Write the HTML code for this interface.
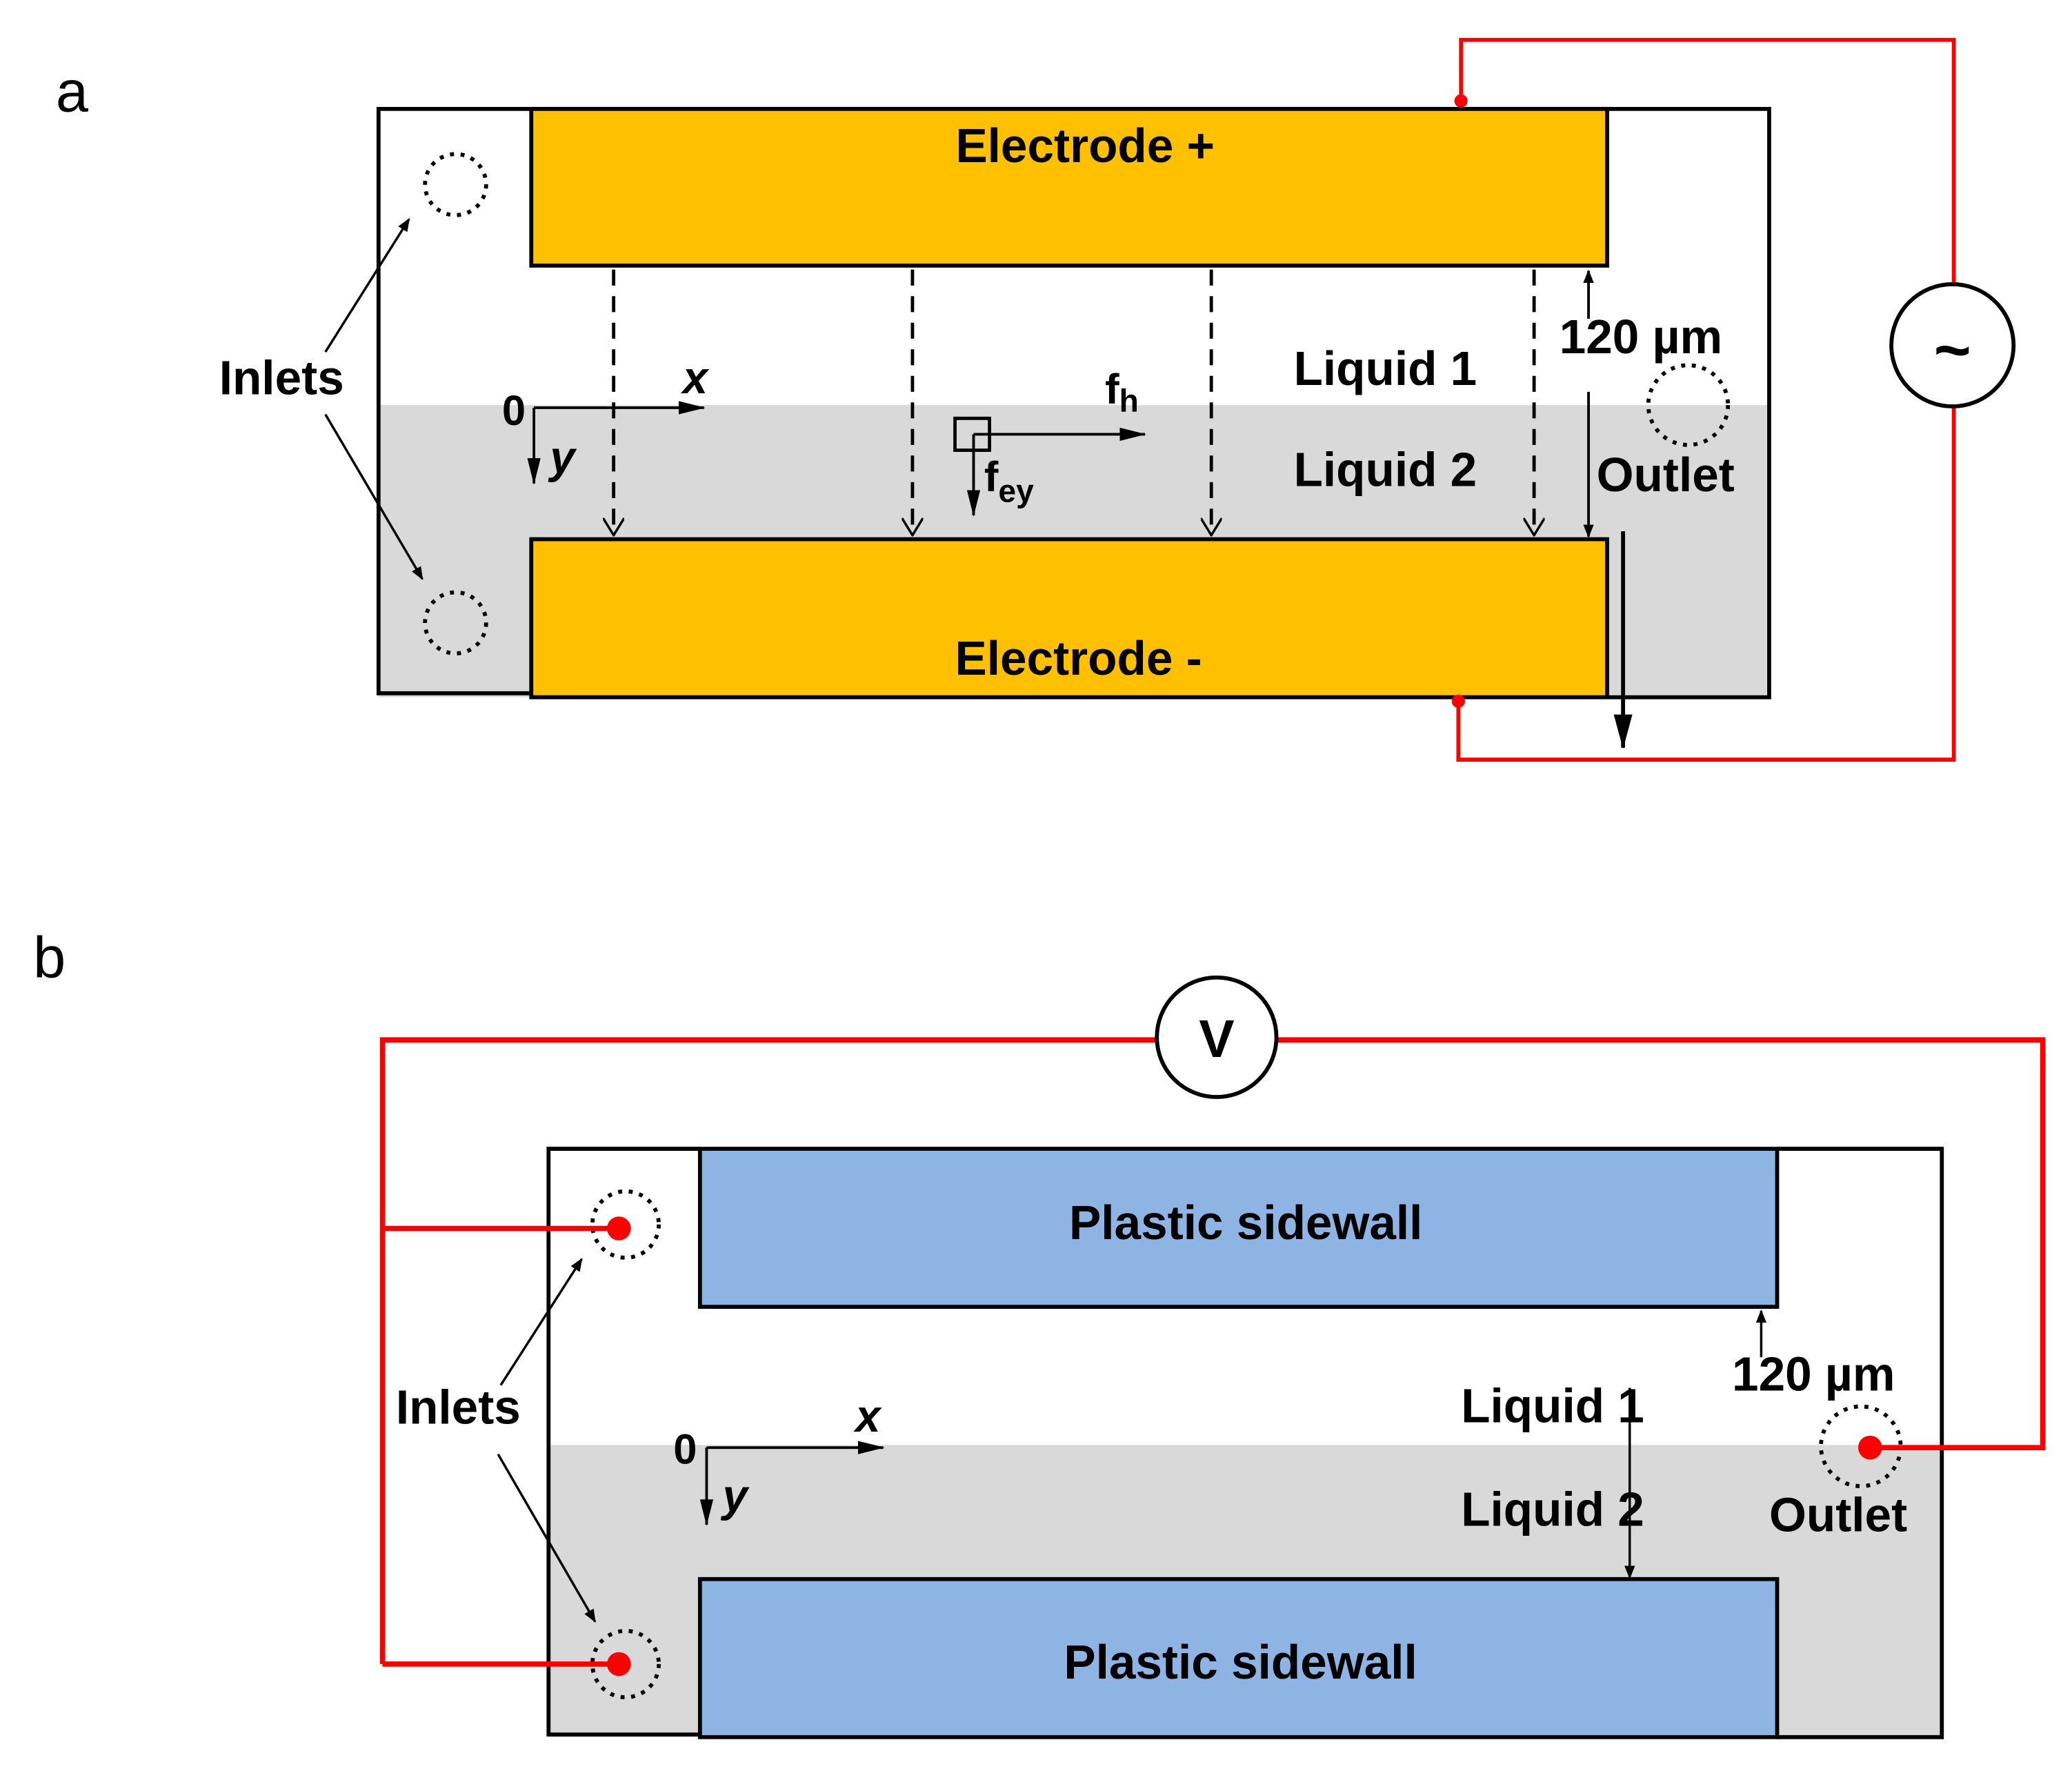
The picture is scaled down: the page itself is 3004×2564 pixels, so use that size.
<!DOCTYPE html>
<html><head><style>html,body{margin:0;padding:0;background:#fff}svg{display:block}</style></head>
<body>
<svg width="3004" height="2564" viewBox="0 0 1560 1332" preserveAspectRatio="none" xmlns="http://www.w3.org/2000/svg" font-family="Liberation Sans, sans-serif">
<defs>
<marker id="f" markerWidth="10" markerHeight="8" refX="9" refY="4" orient="auto" markerUnits="userSpaceOnUse"><path d="M0,0 L10,4 L0,8 Z" fill="#000"/></marker>
<marker id="fb" markerWidth="26" markerHeight="14" refX="25" refY="7" orient="auto" markerUnits="userSpaceOnUse"><path d="M0,0 L26,7 L0,14 Z" fill="#000"/></marker>
<marker id="fm" markerWidth="20" markerHeight="10" refX="19" refY="5" orient="auto" markerUnits="userSpaceOnUse"><path d="M0,0 L20,5 L0,10 Z" fill="#000"/></marker>
<marker id="o" markerWidth="14" markerHeight="16" refX="13" refY="8" orient="auto" markerUnits="userSpaceOnUse"><path d="M0,0 L13,8 L0,16" fill="none" stroke="#000" stroke-width="1.8"/></marker>
</defs>
<!-- Panel a -->
<text x="42" y="84" font-size="44">a</text>
<rect x="285" y="305" width="1047" height="220" fill="#d9d9d9"/>
<path d="M400,82 L285,82 L285,522 L400,522 M1210,82 L1332,82 L1332,525 L1210,525" fill="none" stroke="#000" stroke-width="3"/>
<rect x="400" y="82" width="810" height="118" fill="#ffc000" stroke="#000" stroke-width="3"/>
<rect x="400" y="406" width="810" height="119" fill="#ffc000" stroke="#000" stroke-width="3"/>
<text x="817" y="122" font-size="36" font-weight="bold" text-anchor="middle">Electrode +</text>
<text x="812" y="508" font-size="36" font-weight="bold" text-anchor="middle">Electrode -</text>
<g stroke="#000" stroke-width="2.5" stroke-dasharray="12,8" fill="none">
<line x1="462" y1="203" x2="462" y2="403" marker-end="url(#o)"/>
<line x1="687" y1="203" x2="687" y2="403" marker-end="url(#o)"/>
<line x1="912" y1="203" x2="912" y2="403" marker-end="url(#o)"/>
<line x1="1155" y1="203" x2="1155" y2="403" marker-end="url(#o)"/>
</g>
<g fill="none" stroke="#000" stroke-width="3" stroke-dasharray="3,5">
<circle cx="343" cy="139" r="23"/><circle cx="343" cy="469" r="23"/><circle cx="1271" cy="305" r="30"/>
</g>
<text x="165" y="297" font-size="36" font-weight="bold">Inlets</text>
<g stroke="#000" stroke-width="1.8">
<line x1="245" y1="265" x2="308" y2="165" marker-end="url(#f)"/>
<line x1="245" y1="312" x2="318" y2="436" marker-end="url(#f)"/>
</g>
<text x="378" y="320" font-size="32" font-weight="bold">0</text>
<line x1="402" y1="307" x2="530" y2="307" stroke="#000" stroke-width="2" marker-end="url(#fm)"/>
<line x1="402" y1="307" x2="402" y2="364" stroke="#000" stroke-width="2" marker-end="url(#fm)"/>
<text x="514" y="296" font-size="34" font-weight="bold" font-style="italic">x</text>
<text x="414" y="356" font-size="34" font-weight="bold" font-style="italic">y</text>
<rect x="719" y="315" width="26" height="24" fill="none" stroke="#000" stroke-width="2.5"/>
<line x1="733" y1="327" x2="862" y2="327" stroke="#000" stroke-width="2" marker-end="url(#fm)"/>
<line x1="733" y1="327" x2="733" y2="388" stroke="#000" stroke-width="2" marker-end="url(#fm)"/>
<text x="832" y="304" font-size="32" font-weight="bold">f<tspan font-size="24" dy="6">h</tspan></text>
<text x="741" y="370" font-size="32" font-weight="bold">f<tspan font-size="24" dy="8">ey</tspan></text>
<text x="974" y="290" font-size="36" font-weight="bold">Liquid 1</text>
<text x="974" y="366" font-size="36" font-weight="bold">Liquid 2</text>
<line x1="1196" y1="240" x2="1196" y2="204" stroke="#000" stroke-width="2" marker-end="url(#f)"/>
<line x1="1196" y1="295" x2="1196" y2="404" stroke="#000" stroke-width="2" marker-end="url(#f)"/>
<text x="1174" y="266" font-size="36" font-weight="bold">120 µm</text>
<text x="1202" y="370" font-size="36" font-weight="bold">Outlet</text>
<line x1="1222" y1="400" x2="1222" y2="563" stroke="#000" stroke-width="3" marker-end="url(#fb)"/>
<g stroke="#ff0000" stroke-width="3" fill="none">
<path d="M1100,76 L1100,30 L1471,30 L1471,214"/>
<path d="M1471,306 L1471,572 L1098,572 L1098,528"/>
</g>
<circle cx="1100" cy="76" r="5" fill="#ff0000"/><circle cx="1098" cy="528" r="5" fill="#ff0000"/>
<ellipse cx="1470" cy="260" rx="46" ry="46" fill="#fff" stroke="#000" stroke-width="3"/>
<text x="1470" y="280" font-size="48" font-weight="bold" text-anchor="middle">~</text>

<!-- Panel b -->
<text x="25" y="736" font-size="44">b</text>
<rect x="413" y="1088" width="1049" height="220" fill="#d9d9d9"/>
<path d="M527,865 L413,865 L413,1306 L527,1306 M1338,865 L1462,865 L1462,1308 L1338,1308" fill="none" stroke="#000" stroke-width="3"/>
<rect x="527" y="865" width="811" height="119" fill="#8eb4e3" stroke="#000" stroke-width="3"/>
<rect x="527" y="1189" width="811" height="119" fill="#8eb4e3" stroke="#000" stroke-width="3"/>
<text x="938" y="933" font-size="36" font-weight="bold" text-anchor="middle">Plastic sidewall</text>
<text x="934" y="1264" font-size="36" font-weight="bold" text-anchor="middle">Plastic sidewall</text>
<g fill="none" stroke="#000" stroke-width="3" stroke-dasharray="3,5">
<circle cx="471" cy="922" r="25"/><circle cx="471" cy="1253" r="25"/><circle cx="1401" cy="1089" r="30"/>
</g>
<g stroke="#ff0000" stroke-width="4" fill="none">
<path d="M466,925 L288,925 M288,1253 L466,1253 M288,1253 L288,783 L870,783 M962,783 L1538,783 L1538,1090 L1408,1090"/>
</g>
<circle cx="466" cy="925" r="9" fill="#ff0000"/><circle cx="466" cy="1253" r="9" fill="#ff0000"/><circle cx="1408" cy="1090" r="9" fill="#ff0000"/>
<circle cx="916" cy="781" r="45" fill="#fff" stroke="#000" stroke-width="3"/>
<text x="916" y="796" font-size="40" font-weight="bold" text-anchor="middle">V</text>
<text x="298" y="1072" font-size="36" font-weight="bold">Inlets</text>
<g stroke="#000" stroke-width="1.8">
<line x1="377" y1="1043" x2="438" y2="948" marker-end="url(#f)"/>
<line x1="375" y1="1095" x2="448" y2="1221" marker-end="url(#f)"/>
</g>
<text x="507" y="1102" font-size="32" font-weight="bold">0</text>
<line x1="532" y1="1090" x2="665" y2="1090" stroke="#000" stroke-width="2" marker-end="url(#fm)"/>
<line x1="532" y1="1090" x2="532" y2="1148" stroke="#000" stroke-width="2" marker-end="url(#fm)"/>
<text x="644" y="1078" font-size="34" font-weight="bold" font-style="italic">x</text>
<text x="544" y="1138" font-size="34" font-weight="bold" font-style="italic">y</text>
<text x="1100" y="1071" font-size="36" font-weight="bold">Liquid 1</text>
<text x="1100" y="1149" font-size="36" font-weight="bold">Liquid 2</text>
<line x1="1227" y1="1045" x2="1227" y2="1188" stroke="#000" stroke-width="1.8" marker-end="url(#f)"/>
<line x1="1326" y1="1022" x2="1326" y2="987" stroke="#000" stroke-width="1.8" marker-end="url(#f)"/>
<text x="1304" y="1047" font-size="36" font-weight="bold">120 µm</text>
<text x="1332" y="1153" font-size="36" font-weight="bold">Outlet</text>
</svg>
</body></html>
